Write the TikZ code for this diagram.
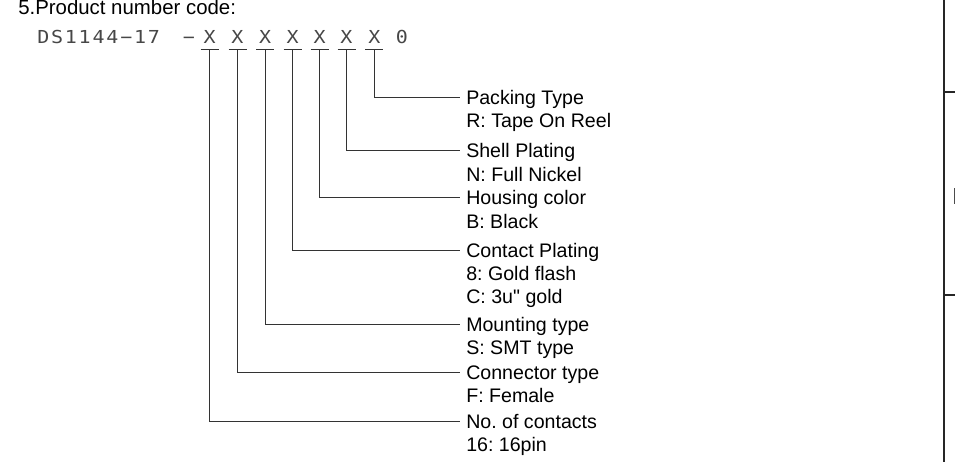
\documentclass[tikz,border=0pt]{standalone}
\usepackage{fontspec}
\setmainfont{Liberation Sans}[Ligatures=TeXOff]
\newfontfamily\codefont[LetterSpace=10,FakeStretch=1.12]{DejaVu Sans Mono}
\newfontfamily\codefontplain[FakeStretch=1.12]{DejaVu Sans Mono}
\usetikzlibrary{calc}
\frenchspacing
\begin{document}
\begin{tikzpicture}[x=0.75pt,y=-0.75pt,
  lbl/.style={anchor=base west,inner sep=0pt,font=\fontsize{14.7pt}{17pt}\selectfont\frenchspacing},
  ttl/.style={anchor=base west,inner sep=0pt,font=\fontsize{15.3pt}{18pt}\selectfont},
  code/.style={anchor=base,inner sep=0pt,text=black!72,font=\codefontplain\fontsize{13.4pt}{16pt}\selectfont},
  lead/.style={draw=black!80,line width=0.75pt},
  frame/.style={draw=black!85,line width=1.5pt}]
\useasboundingbox (0,0) rectangle (955,462);
% title
\node[ttl] (title) at (18,14.5) {5.Product number code:};
% code line
\node[anchor=base west,inner sep=0pt,text=black!72,font=\codefont\fontsize{13.4pt}{16pt}\selectfont] (pn) at (37,43) {DS1144−17};
\node[code] (dash) at (189,43) {−};
\node[code] (x1) at (209.7,43) {X};
\node[code] (x2) at (237.5,43) {X};
\node[code] (x3) at (265.2,43) {X};
\node[code] (x4) at (292.6,43) {X};
\node[code] (x5) at (319.7,43) {X};
\node[code] (x6) at (346.5,43) {X};
\node[code] (x7) at (374.3,43) {X};
\node[code] (zero) at (402,43) {0};
% label end points
\coordinate (e7) at (460,97);
\coordinate (e6) at (460,150);
\coordinate (e5) at (460,197.5);
\coordinate (e4) at (460,250);
\coordinate (e3) at (460,324);
\coordinate (e2) at (460,372);
\coordinate (e1) at (460,421.5);
% ticks and leaders
\foreach \i in {1,...,7}{
  \draw[lead] ($(x\i.base)+(-9,6)$) -- ($(x\i.base)+(9,6)$);
  \draw[lead] ($(x\i.base)+(0,6)$) |- (e\i);
}
% labels
\node[lbl] (l7a) at (466,104) {Packing Type};
\node[lbl] (l7b) at (466,127) {R: Tape On Reel};
\node[lbl] (l6a) at (466,157) {Shell Plating};
\node[lbl] (l6b) at (466,181) {N: Full Nickel};
\node[lbl] (l5a) at (466,204.5) {Housing color};
\node[lbl] (l5b) at (466,228) {B: Black};
\node[lbl] (l4a) at (466,257) {Contact Plating};
\node[lbl] (l4b) at (466,280) {8: Gold flash};
\node[lbl] (l4c) at (466,303) {C: 3u" gold};
\node[lbl] (l3a) at (466,331) {Mounting type};
\node[lbl] (l3b) at (466,354) {S: SMT type};
\node[lbl] (l2a) at (466,379) {Connector type};
\node[lbl] (l2b) at (466,402) {F: Female};
\node[lbl] (l1a) at (466,428.5) {No. of contacts};
\node[lbl] (l1b) at (466,451.5) {16: 16pin};
% right frame
\coordinate (ft) at (944,0);
\coordinate (fb) at (944,462);
\draw[frame] (ft) -- (fb);
\coordinate (t1) at (955,91.5);
\coordinate (t2) at (955,294.5);
\draw[frame] (t1 -| ft) -- (t1);
\draw[frame] (t2 -| ft) -- (t2);
\coordinate (m1) at (954.3,188);
\coordinate (m2) at (954.3,204);
\draw[draw=black!70,line width=0.9pt] (m1) -- (m2);
\end{tikzpicture}
\end{document}
